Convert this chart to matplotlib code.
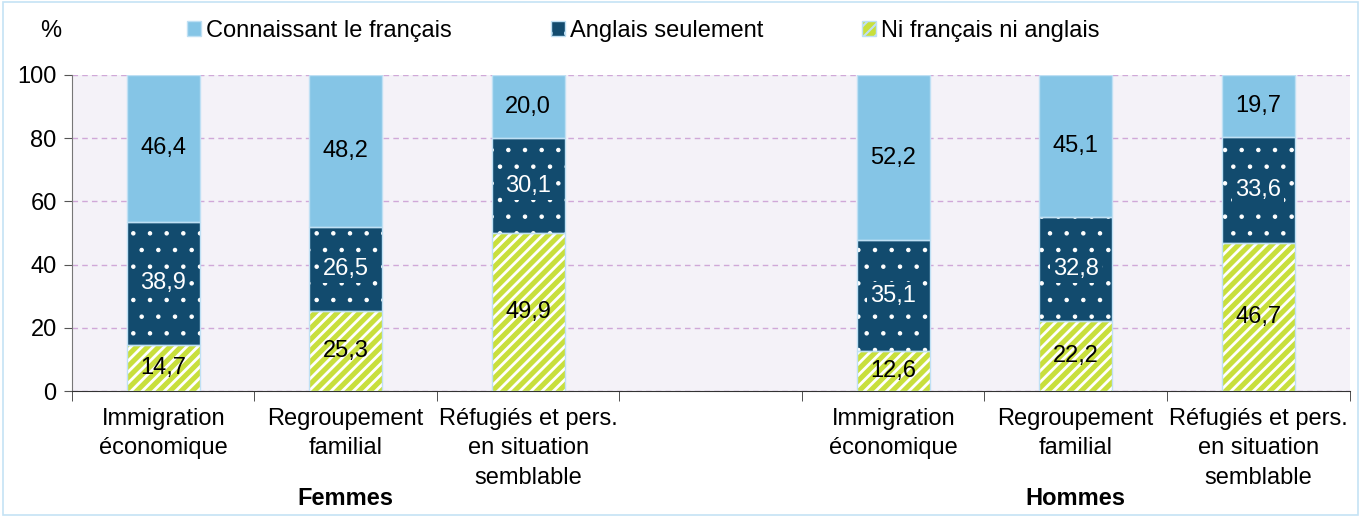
import numpy as np
import matplotlib.pyplot as plt
import matplotlib as mpl
from matplotlib.patches import Patch

plt.rcParams['font.family'] = ['Liberation Sans', 'DejaVu Sans']
mpl.rcParams['hatch.color'] = 'white'

# data
categories = ["Immigration\néconomique", "Regroupement\nfamilial",
              "Réfugiés et pers.\nen situation\nsemblable"]
groups = ["Femmes", "Hommes"]
series = ["Connaissant le français", "Anglais seulement", "Ni français ni anglais"]
ni_fr_ni_en = [14.7, 25.3, 49.9, 12.6, 22.2, 46.7]
anglais = [38.9, 26.5, 30.1, 35.1, 32.8, 33.6]
francais = [46.4, 48.2, 20.0, 52.2, 45.1, 19.7]

c_fr = '#85C5E6'
c_en = '#124B6E'
c_ni = '#C8DF3C'
edge = '#BFE0F4'
fs = 17

fig = plt.figure(figsize=(13.63, 5.16), dpi=100)
ax = fig.add_axes([0.0528, 0.2422, 0.9373, 0.6125])
ax.set_facecolor('#F4F2F8')

# 7 slots: 3 bars, empty slot, 3 bars
x = np.array([0, 1, 2, 4, 5, 6])
w = 0.4

mpl.rcParams['hatch.linewidth'] = 2.0
ax.bar(x, ni_fr_ni_en, w, color=c_ni, edgecolor='white', hatch='///', linewidth=0, zorder=3)
ax.bar(x, ni_fr_ni_en, w, color='none', edgecolor=edge, linewidth=1, zorder=4)
b2 = np.array(ni_fr_ni_en)
mpl.rcParams['hatch.linewidth'] = 0.8
ax.bar(x, anglais, w, bottom=b2, color=c_en, edgecolor='white', hatch='.', linewidth=0, zorder=3)
ax.bar(x, anglais, w, bottom=b2, color='none', edgecolor=edge, linewidth=1, zorder=4)
b3 = b2 + np.array(anglais)
ax.bar(x, francais, w, bottom=b3, color=c_fr, edgecolor=edge, linewidth=1, zorder=3)

def fmt(v):
    return f"{v:.1f}".replace('.', ',')

for i, xi in enumerate(x):
    ax.text(xi, ni_fr_ni_en[i] / 2, fmt(ni_fr_ni_en[i]), ha='center', va='center',
            fontsize=fs, color='black', zorder=5)
    ax.text(xi, b2[i] + anglais[i] / 2, fmt(anglais[i]), ha='center', va='center',
            fontsize=fs, color='white', zorder=5,
            bbox=dict(facecolor=c_en, edgecolor='none', pad=2))
    ax.text(xi, b3[i] + francais[i] / 2, fmt(francais[i]), ha='center', va='center',
            fontsize=fs, color='black', zorder=5)

ax.set_xlim(-0.5, 6.5)
ax.set_ylim(0, 100)
ax.set_yticks(range(0, 101, 20))
ax.tick_params(axis='y', labelsize=fs, length=6, color='#555555', pad=5)
ax.yaxis.grid(True, linestyle=(0, (4, 3)), color='#D0A8D8', linewidth=1, zorder=0)

ax.set_xticks(x)
ax.set_xticklabels(categories * 2, fontsize=fs, linespacing=1.45)
ax.tick_params(axis='x', length=0, pad=12)
ax.set_xticks(np.arange(-0.5, 7, 1), minor=True)
ax.tick_params(axis='x', which='minor', length=7, color='#333333')

for s in ['top', 'right']:
    ax.spines[s].set_visible(False)
ax.spines['left'].set_color('#777777')
ax.spines['bottom'].set_color('#333333')

ax.text(1, -0.34, groups[0], transform=ax.get_xaxis_transform(), ha='center', va='center',
        fontsize=fs, fontweight='bold')
ax.text(5, -0.34, groups[1], transform=ax.get_xaxis_transform(), ha='center', va='center',
        fontsize=fs, fontweight='bold')

fig.text(0.037, 0.94, '%', fontsize=fs, ha='center', va='center')

mpl.rcParams['hatch.linewidth'] = 1.5
handles = [Patch(facecolor=c_fr, edgecolor=edge),
           Patch(facecolor=c_en, edgecolor=edge, hatch='.'),
           Patch(facecolor=c_ni, edgecolor=edge, hatch='///')]
fig.legend(handles, series, loc='center', bbox_to_anchor=(0.472, 0.94), ncol=3, frameon=False,
           fontsize=fs, handlelength=0.6, handleheight=0.6, handletextpad=0.2, columnspacing=4.2)

# light border around the figure
fig.patches.append(plt.Rectangle((0.002, 0.002), 0.994, 0.994, transform=fig.transFigure,
                                 fill=False, edgecolor='#C5E3F5', linewidth=1.2))

fig.savefig('out.png', dpi=100)
